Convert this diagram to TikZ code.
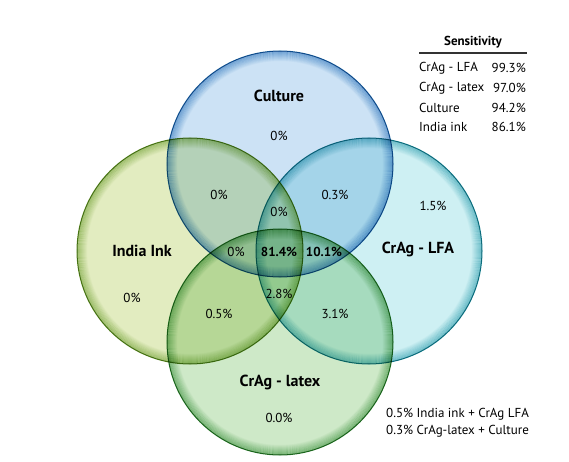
\documentclass[tikz,border=0pt]{standalone}
\usepackage{fontspec}
\setmainfont{PT Sans}
\usetikzlibrary{positioning}

\definecolor{cultline}{RGB}{30,120,192}
\definecolor{cultfill}{RGB}{204,226,245}
\definecolor{inkline}{RGB}{112,166,40}
\definecolor{inkfill}{RGB}{226,236,192}
\definecolor{lfaline}{RGB}{24,158,176}
\definecolor{lfafill}{RGB}{206,240,243}
\definecolor{ltxline}{RGB}{50,150,54}
\definecolor{ltxfill}{RGB}{206,233,200}

\begin{document}
\begin{tikzpicture}[x=1pt, y=-1pt,
  setname/.style={font=\fontsize{16}{18}\selectfont\bfseries, inner sep=1pt},
  pct/.style={font=\fontsize{13}{15}\selectfont, inner sep=1pt},
  bigpct/.style={font=\fontsize{13}{15}\selectfont\bfseries, inner sep=1pt},
  row/.style={font=\fontsize{13}{15}\selectfont, inner sep=0pt}
]
\useasboundingbox (0,0) rectangle (569,462);
\fill[white] (0,0) rectangle (569,462);

% set centres
\coordinate (cult) at (280,164);
\coordinate (ink)  at (190,251);
\coordinate (lfa)  at (369,251);
\coordinate (ltx)  at (280,342);

\begin{scope}[blend group=multiply]
  \fill[cultfill] (cult) circle[radius=113pt];
  \fill[inkfill]  (ink)  circle[radius=113pt];
  \fill[lfafill]  (lfa)  circle[radius=113pt];
  \fill[ltxfill]  (ltx)  circle[radius=113pt];
  \foreach \c/\col in {cult/cultline, ink/inkline, lfa/lfaline, ltx/ltxline}{
    % soft rim
    \foreach \i [evaluate=\i as \o using 0.5*(1-\i/11)] in {1,...,10}
      \draw[\col, line width=1.1pt, draw opacity=\o] (\c) circle[radius=113.5pt-\i pt];
    \draw[\col!80!black, line width=1pt] (\c) circle[radius=113pt];
  }
\end{scope}

% set names
\node[setname] (nCult) at (279,96)  {Culture};
\node[setname] (nInk)  at (142,251) {India Ink};
\node[setname] (nLfa)  at (418,249) {CrAg - LFA};
\node[setname] (nLtx)  at (280,382) {CrAg - latex};

% region values
\node[pct] (c0)    at (279,136) {0\%};
\node[pct] (ci)    at (219,195) {0\%};
\node[pct] (cl)    at (335,195) {0.3\%};
\node[pct] (l0)    at (433,206) {1.5\%};
\node[pct] (cil)   at (279,212) {0\%};
\node[pct] (cix)   at (236,252) {0\%};
\node[bigpct] (all) at (279,252) {81.4\%};
\node[bigpct] (clx) at (324,252) {10.1\%};
\node[pct] (i0)    at (132,298) {0\%};
\node[pct] (ilx)   at (279,294) {2.8\%};
\node[pct] (ix)    at (219,314) {0.5\%};
\node[pct] (lx)    at (335,314) {3.1\%};
\node[pct] (x0)    at (279,418) {0.0\%};

% sensitivity table
\node[font=\fontsize{13}{15}\selectfont\bfseries] (sens) at (473,42) {Sensitivity};
\coordinate (ruleL) at (419,53);
\coordinate (ruleR) at (527,53);
\draw[line width=1.2pt, black!80] (ruleL) -- (ruleR);
\node[row, anchor=west] (r1) at (419,68)  {CrAg - LFA};
\node[row, anchor=west] (r2) at (419,88)  {CrAg - latex};
\node[row, anchor=west] (r3) at (419,108) {Culture};
\node[row, anchor=west] (r4) at (419,127) {India ink};
\node[row, anchor=east] (v1) at (526,68)  {99.3\%};
\node[row, anchor=east] (v2) at (526,88)  {97.0\%};
\node[row, anchor=east] (v3) at (526,108) {94.2\%};
\node[row, anchor=east] (v4) at (526,127) {86.1\%};

% pair notes
\node[row, anchor=west] (note1) at (386,414) {0.5\% India ink + CrAg LFA};
\node[row, anchor=west] (note2) at (386,431) {0.3\% CrAg-latex + Culture};
\end{tikzpicture}
\end{document}
